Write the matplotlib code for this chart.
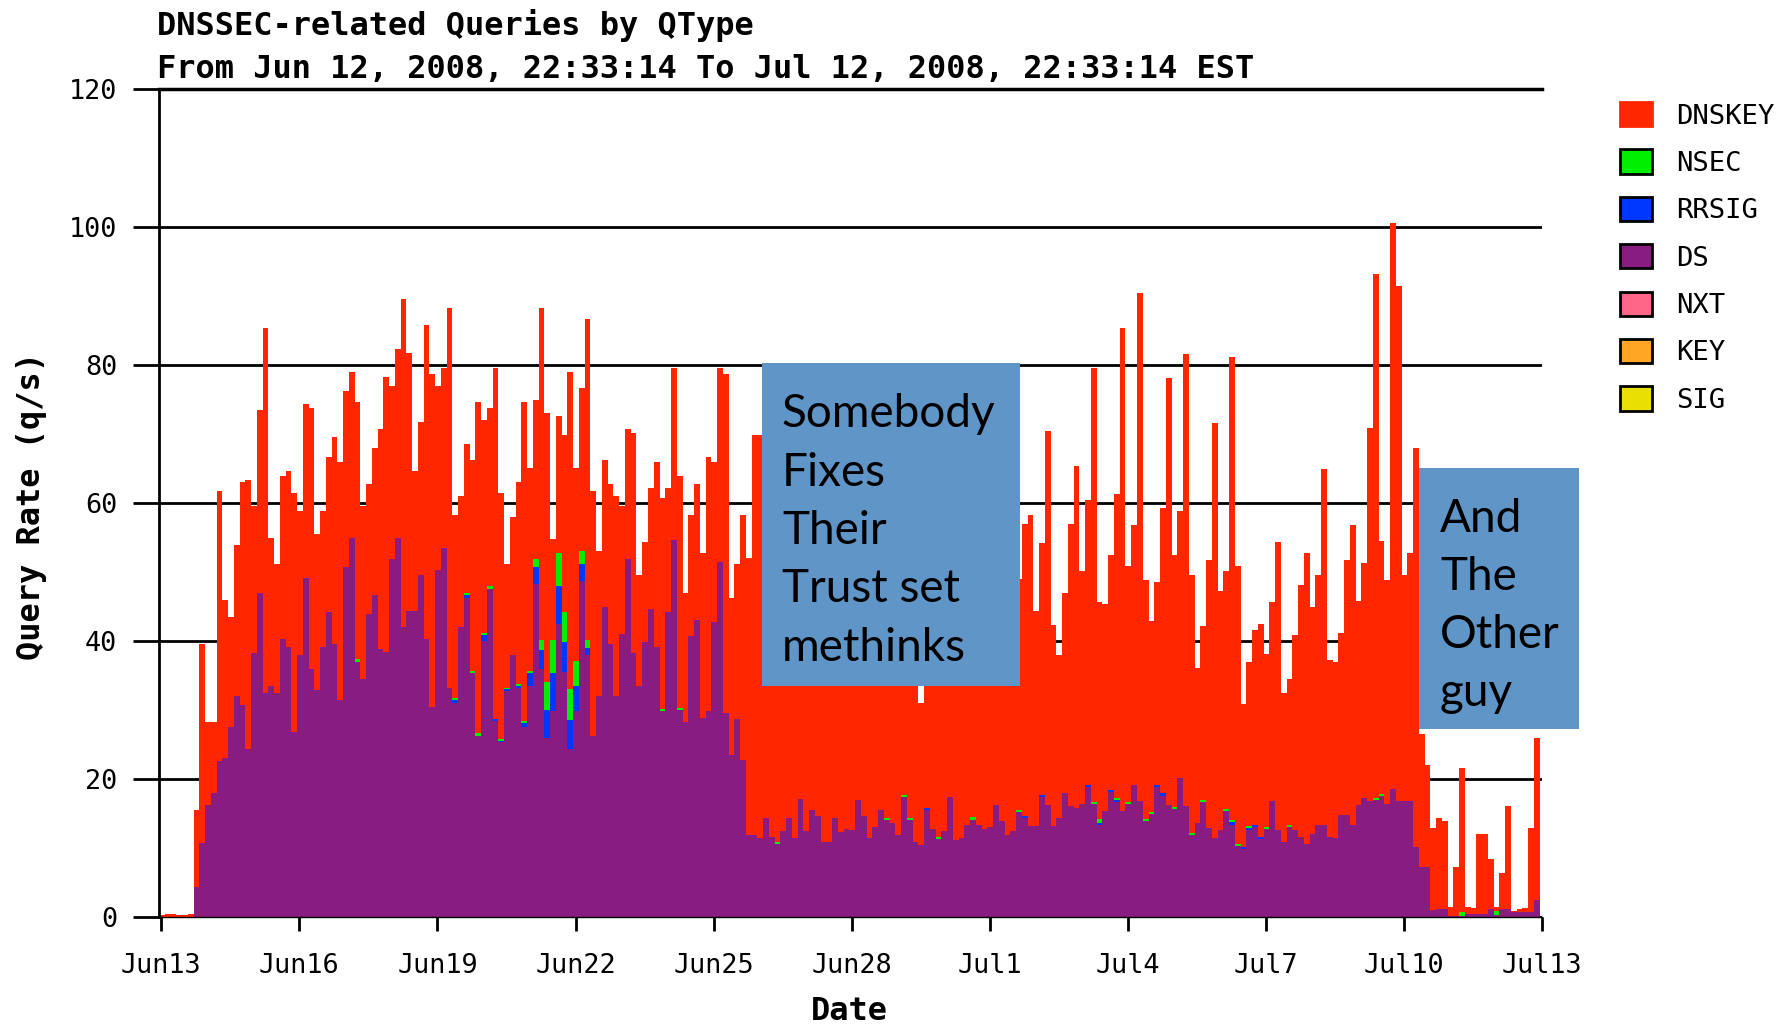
import numpy as np
import matplotlib.pyplot as plt
from matplotlib.patches import Patch, Rectangle

# 3-hour bins, Jun 12 22:33 -> Jul 12 22:33 (x in days after Jun13 00:00)
bin_days = 0.125
first_edge = -0.05

qtypes = ["DNSKEY", "NSEC", "RRSIG", "DS", "NXT", "KEY", "SIG"]
qcolors = ["#ff2600", "#00ee00", "#0037ff", "#881c80", "#ff6688", "#ffa624", "#e8e000"]

tick_days = [0, 3, 6, 9, 12, 15, 18, 21, 24, 27, 30]
tick_labels = ["Jun13", "Jun16", "Jun19", "Jun22", "Jun25", "Jun28",
               "Jul1", "Jul4", "Jul7", "Jul10", "Jul13"]

# top of each stacked bar (q/s)
total = [
    0.3, 0.5, 0.5, 0.3, 0.3, 0.5, 15.5, 39.5, 28.3, 28.3,
    61.8, 45.9, 43.5, 53.9, 63.1, 63.4, 59.5, 73.5, 85.4, 55.0,
    51.2, 63.9, 64.7, 61.5, 58.8, 74.3, 73.8, 55.5, 58.8, 66.7,
    69.5, 65.9, 76.3, 79.0, 74.6, 59.6, 62.7, 68.0, 70.7, 78.3,
    77.0, 82.3, 89.5, 81.8, 64.7, 71.8, 85.8, 78.7, 77.0, 79.5,
    88.2, 58.3, 61.0, 68.6, 66.3, 74.6, 72.0, 73.8, 79.5, 61.5,
    51.2, 57.9, 63.1, 74.6, 65.1, 75.0, 88.2, 73.0, 54.8, 72.6,
    69.8, 79.0, 65.1, 76.7, 86.6, 61.8, 53.1, 66.3, 62.7, 61.0,
    59.6, 70.7, 70.2, 49.5, 54.3, 62.2, 65.9, 60.7, 62.2, 79.5,
    63.9, 47.0, 58.3, 62.7, 52.7, 66.7, 65.9, 79.5, 78.7, 46.3,
    51.2, 58.2, 52.0, 69.8, 69.8, 58, 64, 52, 61, 67,
    55, 49, 60, 66, 58, 47, 53, 62, 57, 50,
    44, 56, 63, 51, 46, 58, 65, 54, 48, 52,
    61, 44, 31, 50, 57, 62, 49, 45, 53, 35,
    48, 58, 64, 52, 47, 55, 60, 50, 44, 49,
    57.0, 58.2, 44.3, 54.2, 70.5, 42.3, 38.0, 47.0, 57.0, 65.4,
    50.1, 60.5, 79.6, 45.6, 45.3, 52.5, 61.3, 85.3, 50.9, 56.8,
    90.5, 48.8, 42.9, 48.5, 59.3, 78.1, 52.5, 58.8, 81.6, 49.6,
    36.1, 42.2, 51.7, 71.6, 47.3, 50.1, 81.2, 50.8, 30.9, 36.9,
    41.6, 42.4, 38.1, 45.6, 54.4, 32.5, 34.5, 40.8, 48.1, 52.8,
    45.0, 49.6, 64.9, 37.2, 37.0, 41.2, 51.8, 56.8, 45.8, 51.3,
    70.9, 93.2, 54.5, 48.9, 100.6, 91.4, 49.5, 52.8, 68.0, 26.5,
    22.1, 12.9, 14.4, 13.9, 1.5, 7.2, 21.6, 1.5, 1.3, 12.1,
    12.1, 8.4, 1.5, 6.4, 16.1, 0.9, 1.2, 1.3, 12.9, 26.0,
]

ds = [
    0, 0, 0, 0, 0, 0, 4.3, 10.7, 16.3, 17.9,
    22.6, 23.1, 27.5, 32.0, 30.7, 24.4, 38.3, 47.0, 32.4, 33.5,
    32.4, 40.3, 39.1, 26.8, 37.9, 49.1, 36.0, 32.9, 39.1, 44.2,
    39.5, 31.5, 50.7, 55.0, 36.9, 34.5, 43.9, 46.6, 38.8, 38.4,
    51.9, 55.0, 42.0, 44.3, 44.3, 49.5, 40.3, 30.4, 50.3, 53.5,
    33.2, 31.0, 42.0, 46.3, 35.3, 26.3, 40.0, 47.6, 28.4, 25.3,
    32.7, 37.9, 33.2, 27.5, 33.5, 48.3, 36.0, 26.0, 29.9, 42.4,
    35.5, 24.4, 29.9, 48.7, 37.9, 26.2, 32.0, 45.0, 39.6, 32.0,
    41.0, 51.9, 38.3, 33.5, 39.9, 44.6, 39.1, 29.8, 44.2, 54.6,
    30.0, 28.3, 40.7, 43.0, 28.8, 29.9, 42.7, 51.4, 29.5, 23.5,
    28.7, 22.7, 11.9, 11.9, 11.5, 14.3, 11.6, 10.6, 12.5, 14.3,
    11.5, 17.1, 12.5, 15.5, 14.6, 10.8, 10.8, 14.3, 12.3, 12.8,
    12.6, 17.0, 14.6, 11.5, 13.1, 15.5, 14.1, 13.6, 11.9, 17.4,
    14.1, 10.8, 10.4, 15.5, 12.8, 11.3, 12.5, 17.4, 11.2, 11.4,
    13.4, 14.0, 13.4, 12.8, 13.1, 16.2, 13.9, 11.9, 12.5, 15.2,
    14.3, 13.2, 13.2, 17.4, 16.2, 13.2, 14.3, 17.9, 16.1, 15.8,
    16.4, 18.8, 16.4, 13.3, 15.3, 18.1, 16.6, 15.4, 16.4, 19.2,
    16.8, 13.9, 14.9, 18.8, 17.6, 16.3, 15.6, 20.1, 16.1, 11.9,
    13.6, 16.6, 12.9, 11.4, 12.6, 15.4, 13.4, 10.3, 9.9, 12.6,
    13.1, 11.3, 12.8, 16.8, 12.6, 10.9, 13.1, 12.6, 11.6, 10.6,
    12.1, 13.4, 13.4, 11.6, 11.4, 14.8, 14.8, 13.3, 16.3, 17.2,
    16.8, 17.0, 17.5, 16.4, 18.5, 16.8, 16.8, 16.8, 10.1, 7.2,
    7.2, 1.0, 1.2, 1.2, 0.2, 0.2, 0.2, 0.5, 0.5, 0.5,
    0.5, 1.2, 0.3, 1.2, 1.2, 0.7, 0.7, 0.7, 0.7, 2.5,
]

# sparse series: bin index -> q/s
rrsig = {51: 0.4, 53: 0.4, 56: 0.8, 58: 0.3, 59: 0.2, 60: 0.3, 62: 0.3, 63: 0.6,
         64: 1.8, 65: 2.4, 66: 2.7, 67: 4.0, 68: 5.5, 69: 5.5, 70: 4.4, 71: 4.2,
         72: 3.6, 73: 2.4, 74: 1.1, 133: 0.3, 150: 0.3, 153: 0.3, 161: 0.3,
         163: 0.3, 165: 0.3, 166: 0.3, 173: 0.3, 174: 0.3, 186: 0.3, 188: 0.3,
         189: 0.3, 190: 0.3, 191: 0.3}
nsec = {34: 0.5, 51: 0.3, 53: 0.3, 54: 0.3, 55: 0.3, 56: 0.3, 57: 0.3, 59: 0.3,
        60: 0.2, 62: 0.3, 63: 0.3, 64: 0.3, 65: 1.2, 66: 1.5, 67: 4.0, 68: 4.7,
        69: 4.8, 70: 4.3, 71: 4.4, 72: 3.6, 73: 2.0, 74: 1.1, 87: 0.3, 90: 0.3,
        107: 0.3, 126: 0.3, 129: 0.3, 130: 0.3, 135: 0.3, 141: 0.5, 149: 0.3,
        162: 0.3, 163: 0.6, 166: 0.3, 168: 0.3, 171: 0.3, 172: 0.3, 176: 0.3,
        179: 0.3, 181: 0.3, 185: 0.3, 186: 0.3, 187: 0.3, 189: 0.3, 192: 0.3,
        196: 0.3, 211: 0.3, 212: 0.3, 226: 0.5, 232: 0.5}

n = len(total)
edges = first_edge + bin_days * np.arange(n + 1)
ds_a = np.array(ds, dtype=float)
rr_a = np.zeros(n)
for k, v in rrsig.items():
    rr_a[k] = v
ns_a = np.zeros(n)
for k, v in nsec.items():
    ns_a[k] = v

top_ds = ds_a
top_rr = top_ds + rr_a
top_ns = top_rr + ns_a
top_all = np.maximum(np.array(total, dtype=float), top_ns)

mono = "DejaVu Sans Mono"
fig = plt.figure(figsize=(17.91, 10.26), dpi=100)
ax = fig.add_axes([159 / 1791, 1 - 917 / 1026, (1542 - 159) / 1791, (917 - 89) / 1026])

# each layer drawn from zero, upper layers first, so there are no seams
for tops, c in [(top_all, qcolors[0]), (top_ns, qcolors[1]),
                (top_rr, qcolors[2]), (top_ds, qcolors[3])]:
    ax.stairs(tops, edges, baseline=0, fill=True, color=c, lw=0, zorder=2)

ax.set_xlim(first_edge, 30)
ax.set_ylim(0, 120)
ax.set_yticks(range(0, 121, 20))
ax.set_xticks(tick_days)
ax.set_xticklabels(tick_labels)
ax.yaxis.grid(True, color="black", lw=2)
ax.set_axisbelow(True)
ax.spines["right"].set_visible(False)
ax.spines["top"].set_linewidth(2.5)
ax.spines["left"].set_linewidth(2)
ax.spines["bottom"].set_linewidth(1)
ax.tick_params(axis="y", length=19, width=2, pad=11, labelsize=19.4)
ax.tick_params(axis="x", length=10, width=2, pad=16, labelsize=19.4)
for lab in ax.get_xticklabels() + ax.get_yticklabels():
    lab.set_family(mono)

fig.text(157 / 1791, 1 - 25 / 1026, "DNSSEC-related Queries by QType",
         family=mono, weight="bold", fontsize=23, va="center", ha="left")
fig.text(157 / 1791, 1 - 70 / 1026,
         "From Jun 12, 2008, 22:33:14 To Jul 12, 2008, 22:33:14 EST",
         family=mono, weight="bold", fontsize=23, va="center", ha="left")
fig.text(849 / 1791, 1 - 1012 / 1026, "Date", family=mono, weight="bold",
         fontsize=23, ha="center", va="center")
fig.text(32 / 1791, 1 - 506 / 1026, "Query Rate (q/s)", family=mono,
         weight="bold", fontsize=23, ha="center", va="center", rotation=90)

handles = []
for name, c in zip(qtypes, qcolors):
    ec = c if name == "DNSKEY" else "black"
    handles.append(Patch(facecolor=c, edgecolor=ec, lw=2, label=name))
fig.legend(handles=handles, loc="upper left",
           bbox_to_anchor=(1620 / 1791, 1 - 102 / 1026), frameon=False,
           borderpad=0, borderaxespad=0, handlelength=1.18, handleheight=1.0,
           handletextpad=0.9, labelspacing=0.73,
           prop={"family": mono, "size": 19.6})

# the two slide call-outs pasted on top of the chart
box_color = "#6095c8"
fig.add_artist(Rectangle((762 / 1791, 1 - 686 / 1026), 258 / 1791, 323 / 1026,
                         transform=fig.transFigure, facecolor=box_color,
                         edgecolor="none", zorder=5))
fig.text(782 / 1791, 1 - 531 / 1026, "Somebody\nFixes\nTheir\nTrust set\nmethinks",
         family="Lato", fontsize=33, ha="left", va="center", linespacing=1.48,
         zorder=6)
fig.add_artist(Rectangle((1419 / 1791, 1 - 729 / 1026), 160 / 1791, 261 / 1026,
                         transform=fig.transFigure, facecolor=box_color,
                         edgecolor="none", zorder=5))
fig.text(1440 / 1791, 1 - 606 / 1026, "And\nThe\nOther\nguy",
         family="Lato", fontsize=33, ha="left", va="center", linespacing=1.48,
         zorder=6)

fig.savefig("out.png", dpi=100)
